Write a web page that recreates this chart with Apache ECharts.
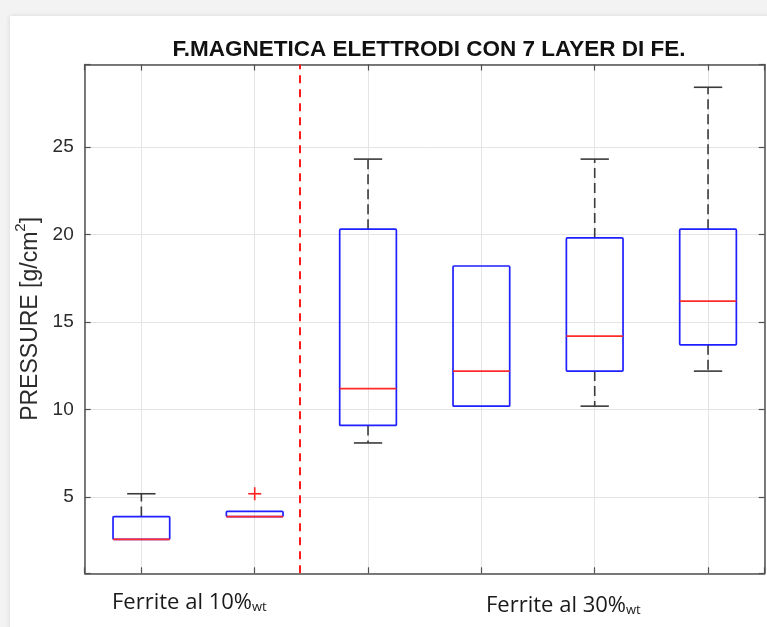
<!DOCTYPE html>
<html>
<head>
<meta charset="utf-8">
<script src="https://cdn.jsdelivr.net/npm/echarts@6/dist/echarts.min.js"></script>
<style>
  html, body { margin: 0; padding: 0; background: #f3f3f3; }
  #chart { width: 767px; height: 627px; }
</style>
</head>
<body>
<div id="chart"></div>
<script>
// Box positions along the x axis (one box per sample set)
const boxPositions = [1, 2, 3, 4, 5, 6];
// Five-number summaries, in g/cm^2
const lowerWhisker = [2.6, 3.9, 8.1, 10.2, 10.2, 12.2];
const q1Values     = [2.6, 3.9, 9.1, 10.2, 12.2, 13.7];
const medianValues = [2.6, 3.9, 11.2, 12.2, 14.2, 16.2];
const q3Values     = [3.9, 4.2, 20.3, 18.2, 19.8, 20.3];
const upperWhisker = [5.2, 4.2, 24.3, 18.2, 24.3, 28.4];
// Outliers as [position, value]
const outlierPoints = [[2, 5.2]];
// Separator between the two ferrite groups
const dividerAt = 2.4;
// Group captions under the axis
const groupLabels = ['Ferrite al 10%', 'Ferrite al 30%'];
const groupSubscript = 'wt';
const yTicks = [5, 10, 15, 20, 25];
const yRange = [0.66, 29.7];
const xRange = [0.5, 6.5];

const boxRows = boxPositions.map((p, i) => [p, lowerWhisker[i], q1Values[i], medianValues[i], q3Values[i], upperWhisker[i]]);

const BOX_HALF = 0.25;
const CAP_HALF = 0.125;
const frameColor = '#505050';

function renderBox(params, api) {
  const x = api.value(0), lo = api.value(1), q1 = api.value(2), med = api.value(3), q3 = api.value(4), hi = api.value(5);
  const children = [];
  const whiskerStyle = { stroke: '#3a3a3a', lineWidth: 1.6, lineDash: [10, 5] };
  const capStyle = { stroke: '#3a3a3a', lineWidth: 1.6 };
  const seg = (a, b, style) => ({ type: 'line', shape: { x1: a[0], y1: a[1], x2: b[0], y2: b[1] }, style });
  if (hi > q3) {
    children.push(seg(api.coord([x, q3]), api.coord([x, hi]), whiskerStyle));
    children.push(seg(api.coord([x - CAP_HALF, hi]), api.coord([x + CAP_HALF, hi]), capStyle));
  }
  if (lo < q1) {
    children.push(seg(api.coord([x, q1]), api.coord([x, lo]), whiskerStyle));
    children.push(seg(api.coord([x - CAP_HALF, lo]), api.coord([x + CAP_HALF, lo]), capStyle));
  }
  const tl = api.coord([x - BOX_HALF, q3]);
  const br = api.coord([x + BOX_HALF, q1]);
  children.push({
    type: 'rect',
    shape: { x: tl[0], y: tl[1], width: br[0] - tl[0], height: br[1] - tl[1], r: 1 },
    style: { fill: 'none', stroke: '#1f1fff', lineWidth: 1.7 }
  });
  children.push(seg(api.coord([x - BOX_HALF, med]), api.coord([x + BOX_HALF, med]), { stroke: '#ff2a2a', lineWidth: 1.7 }));
  return { type: 'group', children };
}

function renderOutlier(params, api) {
  const c = api.coord([api.value(0), api.value(1)]);
  const h = 6.5;
  const style = { stroke: '#ff2020', lineWidth: 1.6 };
  return {
    type: 'group',
    children: [
      { type: 'line', shape: { x1: c[0] - h, y1: c[1], x2: c[0] + h, y2: c[1] }, style },
      { type: 'line', shape: { x1: c[0], y1: c[1] - h, x2: c[0], y2: c[1] + h }, style }
    ]
  };
}

const frameLine = { show: true, lineStyle: { color: frameColor, width: 1.5 } };
const innerTick = { show: true, inside: true, length: 6, lineStyle: { color: frameColor, width: 1.2 } };
const gridLine = { show: true, lineStyle: { color: '#e4e4e4', width: 1 } };

const captionRich = {
  a: { fontFamily: 'Open Sans', fontSize: 22, fill: '#1a1a1a', verticalAlign: 'bottom' },
  s: { fontFamily: 'Open Sans', fontSize: 13, fill: '#1a1a1a', verticalAlign: 'bottom' }
};

const chart = echarts.init(document.getElementById('chart'));
chart.setOption({
  animation: false,
  backgroundColor: '#f3f3f3',
  graphic: [
    {
      type: 'rect', z: -10, silent: true,
      shape: { x: 10, y: 16, width: 767, height: 627 },
      style: { fill: '#ffffff', shadowBlur: 5, shadowColor: 'rgba(0,0,0,0.12)' }
    },
    {
      type: 'text', left: 112, top: 592,
      style: { text: '{a|' + groupLabels[0] + '}{s|' + groupSubscript + '}', rich: captionRich }
    },
    {
      type: 'text', left: 486, top: 595,
      style: { text: '{a|' + groupLabels[1] + '}{s|' + groupSubscript + '}', rich: captionRich }
    }
  ],
  title: {
    text: 'F.MAGNETICA ELETTRODI CON 7 LAYER DI FE.',
    left: 424, top: 33, textAlign: 'center',
    textStyle: { fontFamily: 'Liberation Sans', fontWeight: 'bold', fontSize: 22.5, color: '#111' }
  },
  grid: { left: 84.7, top: 64.5, right: 2.3, bottom: 53.7, containLabel: false },
  xAxis: [
    {
      type: 'value', min: xRange[0], max: xRange[1], splitNumber: 6, position: 'bottom',
      axisLine: frameLine, axisTick: innerTick, axisLabel: { show: false }, splitLine: gridLine
    },
    {
      type: 'value', min: xRange[0], max: xRange[1], splitNumber: 6, position: 'top',
      axisLine: frameLine, axisTick: innerTick, axisLabel: { show: false }, splitLine: { show: false }
    }
  ],
  yAxis: [
    {
      type: 'value', min: yRange[0], max: yRange[1], splitNumber: 5, position: 'left',
      axisLine: frameLine, axisTick: innerTick, splitLine: gridLine,
      axisLabel: {
        margin: 11, fontFamily: 'Liberation Sans', fontSize: 19, color: '#2b2b2b',
        formatter: v => (yTicks.indexOf(v) >= 0 ? String(v) : '')
      },
      name: '{a|PRESSURE [g/cm}{sup|2}{a|]}',
      nameLocation: 'middle', nameGap: 38, nameRotate: 90,
      nameTextStyle: {
        rich: {
          a: { fontFamily: 'Liberation Sans', fontSize: 23, color: '#2b2b2b', verticalAlign: 'bottom', lineHeight: 28 },
          sup: { fontFamily: 'Liberation Sans', fontSize: 15, color: '#2b2b2b', verticalAlign: 'top', lineHeight: 28 }
        }
      }
    },
    {
      type: 'value', min: yRange[0], max: yRange[1], splitNumber: 5, position: 'right',
      axisLine: frameLine, axisTick: innerTick, axisLabel: { show: false }, splitLine: { show: false }
    }
  ],
  series: [
    {
      type: 'custom', name: 'boxes', xAxisIndex: 0, yAxisIndex: 0,
      data: boxRows, encode: { x: 0, y: [1, 2, 3, 4, 5] },
      renderItem: renderBox, silent: true, z: 3
    },
    {
      type: 'custom', name: 'outliers', xAxisIndex: 0, yAxisIndex: 0,
      data: outlierPoints, encode: { x: 0, y: 1 },
      renderItem: renderOutlier, silent: true, z: 4,
      markLine: {
        silent: true, symbol: ['none', 'none'], label: { show: false },
        lineStyle: { color: '#ff1a1a', width: 2, type: [8, 6] },
        data: [{ xAxis: dividerAt }]
      }
    }
  ]
});
</script>
</body>
</html>
